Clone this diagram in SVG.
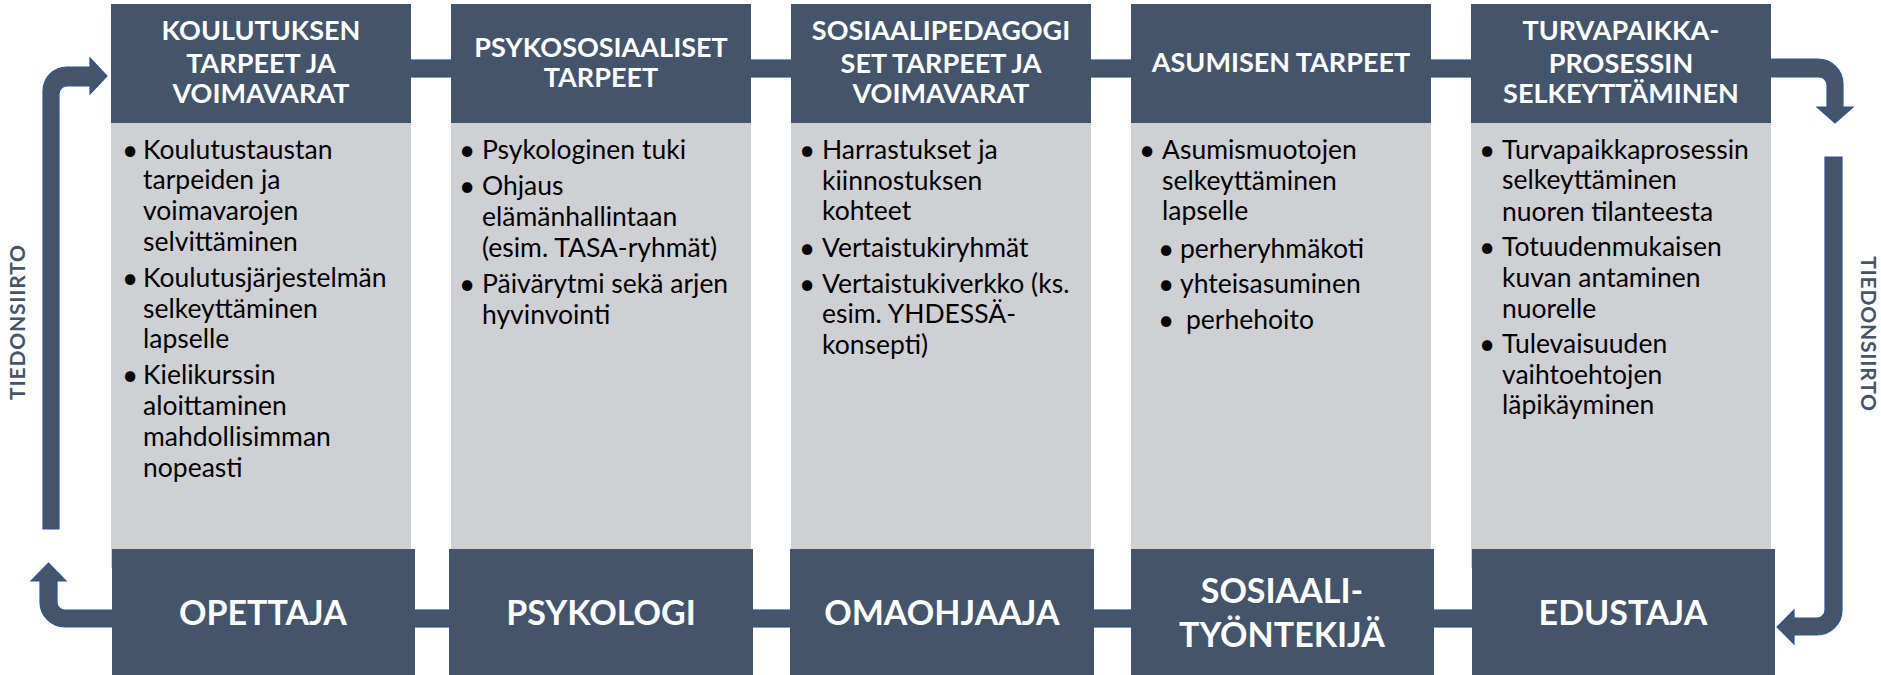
<svg xmlns="http://www.w3.org/2000/svg" width="1881" height="675" viewBox="0 0 1881 675">
<style>
  .hdr{fill:#44546A}
  .body{fill:#CFD0D4}
  .conn{fill:#44546A;stroke:#2F5597;stroke-width:1.2}
  .ht{font-family:Lato,"Open Sans",sans-serif;font-weight:bold;font-size:27px;fill:#FFFFFF;text-anchor:middle}
  .bt{font-family:Lato,"Open Sans",sans-serif;font-weight:bold;font-size:34px;fill:#FFFFFF;text-anchor:middle}
  .tx{font-family:Lato,"Open Sans",sans-serif;font-size:26.5px;fill:#000000}
  .bl{font-family:Lato,"Open Sans",sans-serif;font-size:28px;fill:#000000;text-anchor:middle}
  .side{font-family:Lato,"Open Sans",sans-serif;font-weight:bold;font-size:21px;letter-spacing:0.8px;fill:#44546A;text-anchor:middle}
</style>
<rect width="1881" height="675" fill="#FFFFFF"/>
<g id="connectors">
  <rect class="conn" x="405" y="60" width="52" height="17"/>
  <rect class="conn" x="745" y="60" width="52" height="17"/>
  <rect class="conn" x="1085" y="60" width="52" height="17"/>
  <rect class="conn" x="1425" y="60" width="52" height="17"/>
  <rect class="conn" x="408" y="610" width="47" height="17"/>
  <rect class="conn" x="748" y="610" width="48" height="17"/>
  <rect class="conn" x="1088" y="610" width="49" height="17"/>
  <rect class="conn" x="1428" y="610" width="50" height="17"/>
  <path class="conn" d="M 1765 59 L 1818 59 A 25 25 0 0 1 1843 84 L 1843 107 L 1853 107 L 1835 123 L 1817 107 L 1827 107 L 1827 85 A 8 8 0 0 0 1819 77 L 1765 77 Z"/>
  <path class="conn" d="M 1825 157 L 1842 157 L 1842 610 A 25 25 0 0 1 1817 635 L 1794 635 L 1794 644 L 1777 627 L 1794 610 L 1794 618 L 1817 618 A 8 8 0 0 0 1825 610 Z"/>
  <path class="conn" d="M 120 610 L 65 610 A 8 8 0 0 1 57 602 L 57 581 L 66 581 L 48.5 563 L 31 581 L 40 581 L 40 602 A 25 25 0 0 0 65 627 L 120 627 Z"/>
  <path class="conn" d="M 43 529 L 43 91 A 24 24 0 0 1 67 67 L 90 67 L 90 58 L 107 76 L 90 94 L 90 86 L 67 86 A 8 8 0 0 0 59 94 L 59 529 Z"/>
</g>
<g id="side-left">
  <text class="side" transform="translate(25,322) rotate(-90)">TIEDONSIIRTO</text>
</g>
<g id="side-right">
  <text class="side" transform="translate(1861,334) rotate(90)">TIEDONSIIRTO</text>
</g>
<g id="col1">
  <rect class="body" x="111" y="123" width="300" height="445"/>
  <rect class="hdr" x="111" y="4" width="300" height="119"/>
  <text class="ht" x="261" y="40">KOULUTUKSEN</text>
  <text class="ht" x="261" y="73">TARPEET JA</text>
  <text class="ht" x="261" y="103">VOIMAVARAT</text>
  <text class="bl" x="130" y="160">•</text>
  <text class="tx" x="143" y="159">Koulutustaustan</text>
  <text class="tx" x="143" y="189">tarpeiden ja</text>
  <text class="tx" x="143" y="220">voimavarojen</text>
  <text class="tx" x="143" y="251">selvittäminen</text>
  <text class="bl" x="130" y="288">•</text>
  <text class="tx" x="143" y="287">Koulutusjärjestelmän</text>
  <text class="tx" x="143" y="318">selkeyttäminen</text>
  <text class="tx" x="143" y="348">lapselle</text>
  <text class="bl" x="130" y="385">•</text>
  <text class="tx" x="143" y="384">Kielikurssin</text>
  <text class="tx" x="143" y="415">aloittaminen</text>
  <text class="tx" x="143" y="446">mahdollisimman</text>
  <text class="tx" x="143" y="477">nopeasti</text>
</g>
<g id="col2">
  <rect class="body" x="451" y="123" width="300" height="445"/>
  <rect class="hdr" x="451" y="4" width="300" height="119"/>
  <text class="ht" x="601" y="57">PSYKOSOSIAALISET</text>
  <text class="ht" x="601" y="87">TARPEET</text>
  <text class="bl" x="467" y="160">•</text>
  <text class="tx" x="482" y="159">Psykologinen tuki</text>
  <text class="bl" x="467" y="196">•</text>
  <text class="tx" x="482" y="195">Ohjaus</text>
  <text class="tx" x="482" y="226">elämänhallintaan</text>
  <text class="tx" x="482" y="257">(esim. TASA-ryhmät)</text>
  <text class="bl" x="467" y="294">•</text>
  <text class="tx" x="482" y="293">Päivärytmi sekä arjen</text>
  <text class="tx" x="482" y="324">hyvinvointi</text>
</g>
<g id="col3">
  <rect class="body" x="791" y="123" width="300" height="445"/>
  <rect class="hdr" x="791" y="4" width="300" height="119"/>
  <text class="ht" x="941" y="40">SOSIAALIPEDAGOGI</text>
  <text class="ht" x="941" y="73">SET TARPEET JA</text>
  <text class="ht" x="941" y="103">VOIMAVARAT</text>
  <text class="bl" x="807" y="160">•</text>
  <text class="tx" x="822" y="159">Harrastukset ja</text>
  <text class="tx" x="822" y="190">kiinnostuksen</text>
  <text class="tx" x="822" y="220">kohteet</text>
  <text class="bl" x="807" y="258">•</text>
  <text class="tx" x="822" y="257">Vertaistukiryhmät</text>
  <text class="bl" x="807" y="294">•</text>
  <text class="tx" x="822" y="293">Vertaistukiverkko (ks.</text>
  <text class="tx" x="822" y="323">esim. YHDESSÄ-</text>
  <text class="tx" x="822" y="354">konsepti)</text>
</g>
<g id="col4">
  <rect class="body" x="1131" y="123" width="300" height="445"/>
  <rect class="hdr" x="1131" y="4" width="300" height="119"/>
  <text class="ht" x="1281" y="72">ASUMISEN TARPEET</text>
  <text class="bl" x="1147" y="160">•</text>
  <text class="tx" x="1162" y="159">Asumismuotojen</text>
  <text class="tx" x="1162" y="190">selkeyttäminen</text>
  <text class="tx" x="1162" y="220">lapselle</text>
  <text class="bl" x="1166" y="259">•</text>
  <text class="tx" x="1180" y="258">perheryhmäkoti</text>
  <text class="bl" x="1166" y="294">•</text>
  <text class="tx" x="1180" y="293">yhteisasuminen</text>
  <text class="bl" x="1166" y="330">•</text>
  <text class="tx" x="1186" y="329">perhehoito</text>
</g>
<g id="col5">
  <rect class="body" x="1471" y="123" width="300" height="445"/>
  <rect class="hdr" x="1471" y="4" width="300" height="119"/>
  <text class="ht" x="1621" y="40">TURVAPAIKKA-</text>
  <text class="ht" x="1621" y="73">PROSESSIN</text>
  <text class="ht" x="1621" y="103">SELKEYTTÄMINEN</text>
  <text class="bl" x="1487" y="160">•</text>
  <text class="tx" x="1502" y="159">Turvapaikkaprosessin</text>
  <text class="tx" x="1502" y="189">selkeyttäminen</text>
  <text class="tx" x="1502" y="221">nuoren tilanteesta</text>
  <text class="bl" x="1487" y="257">•</text>
  <text class="tx" x="1502" y="256">Totuudenmukaisen</text>
  <text class="tx" x="1502" y="287">kuvan antaminen</text>
  <text class="tx" x="1502" y="318">nuorelle</text>
  <text class="bl" x="1487" y="354">•</text>
  <text class="tx" x="1502" y="353">Tulevaisuuden</text>
  <text class="tx" x="1502" y="384">vaihtoehtojen</text>
  <text class="tx" x="1502" y="414">läpikäyminen</text>
</g>
<g id="role1">
  <rect class="hdr" x="112" y="549" width="303" height="126"/>
  <text class="bt" x="263" y="625">OPETTAJA</text>
</g>
<g id="role2">
  <rect class="hdr" x="449" y="549" width="304" height="126"/>
  <text class="bt" x="601" y="625">PSYKOLOGI</text>
</g>
<g id="role3">
  <rect class="hdr" x="790" y="549" width="304" height="126"/>
  <text class="bt" x="942" y="625">OMAOHJAAJA</text>
</g>
<g id="role4">
  <rect class="hdr" x="1131" y="549" width="303" height="126"/>
  <text class="bt" x="1282" y="603">SOSIAALI-</text>
  <text class="bt" x="1282" y="647">TYÖNTEKIJÄ</text>
</g>
<g id="role5">
  <rect class="hdr" x="1472" y="549" width="303" height="126"/>
  <text class="bt" x="1623" y="625">EDUSTAJA</text>
</g>
</svg>
